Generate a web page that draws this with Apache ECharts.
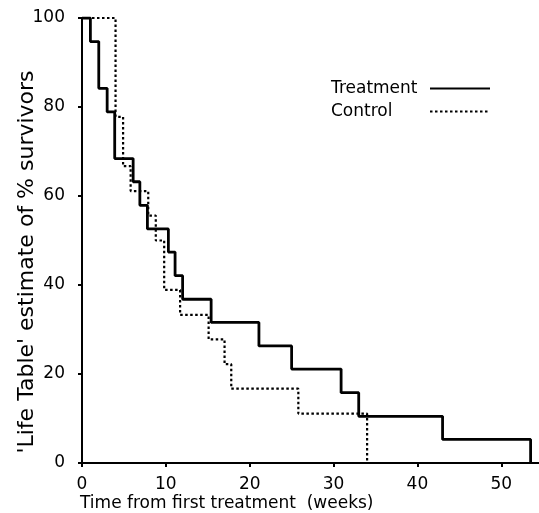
<!DOCTYPE html>
<html>
<head>
<meta charset="utf-8">
<script src="https://cdn.jsdelivr.net/npm/echarts@6/dist/echarts.min.js"></script>
<style>
  html, body { margin: 0; padding: 0; background: #fff; }
  #chart { width: 539px; height: 513px; }
</style>
</head>
<body>
<div id="chart"></div>
<script>
// survival curves (weeks, % surviving)
const treatmentWeeks = [0, 1, 2, 3, 3.9, 6.1, 6.9, 7.8, 10.3, 11.1, 12, 15.4, 21.1, 25, 30.9, 33, 43, 53.5];
const treatmentPct = [100, 94.7, 84.2, 78.9, 68.4, 63.2, 57.9, 52.6, 47.4, 42.1, 36.8, 31.6, 26.3, 21.1, 15.8, 10.5, 5.3, 0];

const controlWeeks = [0, 4, 4.9, 5.8, 7.9, 8.8, 9.8, 11.7, 15.1, 17, 17.8, 25.8, 34];
const controlPct = [100, 77.8, 66.7, 61.1, 55.6, 50, 38.9, 33.3, 27.8, 22.2, 16.7, 11.1, 0];

const xTicks = [0, 10, 20, 30, 40, 50];

const FONT = 'DejaVu Sans';

const chart = echarts.init(document.getElementById('chart'), null, { renderer: 'canvas' });

// pair up weeks and values for the line series
function pairs(xs, ys) {
	return xs.map((x, i) => [x, ys[i]]);
}

chart.setOption({
	animation: false,
	textStyle: { fontFamily: FONT, color: '#000' },
	grid: { left: 82, right: 0, top: 18, bottom: 50 },
	legend: {
		orient: 'vertical',
		left: 326,
		top: 75,
		align: 'right',
		itemWidth: 60,
		itemHeight: 14,
		itemGap: 6,
		// hide the symbol in the middle of the legend line
		itemStyle: { opacity: 0, color: 'rgba(0,0,0,0)', borderWidth: 0 },
		formatter: name => '{a|' + name + '}',
		textStyle: {
			fontFamily: FONT, fontSize: 17, color: '#000',
			rich: { a: { width: 94, align: 'left', fontFamily: FONT, fontSize: 17, color: '#000' } }
		},
		data: ['Treatment', 'Control']
	},
	xAxis: {
		type: 'value',
		min: 0,
		max: 54.5,
		splitLine: { show: false },
		axisLine: { lineStyle: { color: '#000', width: 2 } },
		axisTick: { customValues: xTicks, length: 4, lineStyle: { color: '#000', width: 2 } },
		axisLabel: { customValues: xTicks, margin: 13, fontSize: 17, color: '#000', fontFamily: FONT }
	},
	yAxis: {
		type: 'value',
		min: 0,
		max: 100,
		interval: 20,
		splitLine: { show: false },
		axisLine: { show: true, lineStyle: { color: '#000', width: 2 } },
		axisTick: { show: true, length: 4, lineStyle: { color: '#000', width: 2 } },
		axisLabel: { margin: 17, fontSize: 17, color: '#000', fontFamily: FONT }
	},
	graphic: [
		{
			type: 'text',
			left: 80,
			top: 495,
			style: { text: 'Time from first treatment  (weeks)', font: '17px "DejaVu Sans"', fill: '#000' }
		},
		{
			type: 'text',
			x: 27,
			y: 262,
			rotation: Math.PI / 2,
			style: {
				text: "'Life Table' estimate of % survivors",
				font: '22px "DejaVu Sans"',
				fill: '#000',
				align: 'center',
				verticalAlign: 'middle'
			}
		}
	],
	series: [
		{
			name: 'Treatment',
			type: 'line',
			step: 'end',
			symbol: 'none',
			lineStyle: { color: '#000', width: 2.8, type: 'solid' },
			data: pairs(treatmentWeeks, treatmentPct),
			z: 3
		},
		{
			name: 'Control',
			type: 'line',
			step: 'end',
			symbol: 'none',
			lineStyle: { color: '#000', width: 2.2, type: [2.5, 2.5] },
			data: pairs(controlWeeks, controlPct),
			z: 2
		}
	]
});
</script>
</body>
</html>
